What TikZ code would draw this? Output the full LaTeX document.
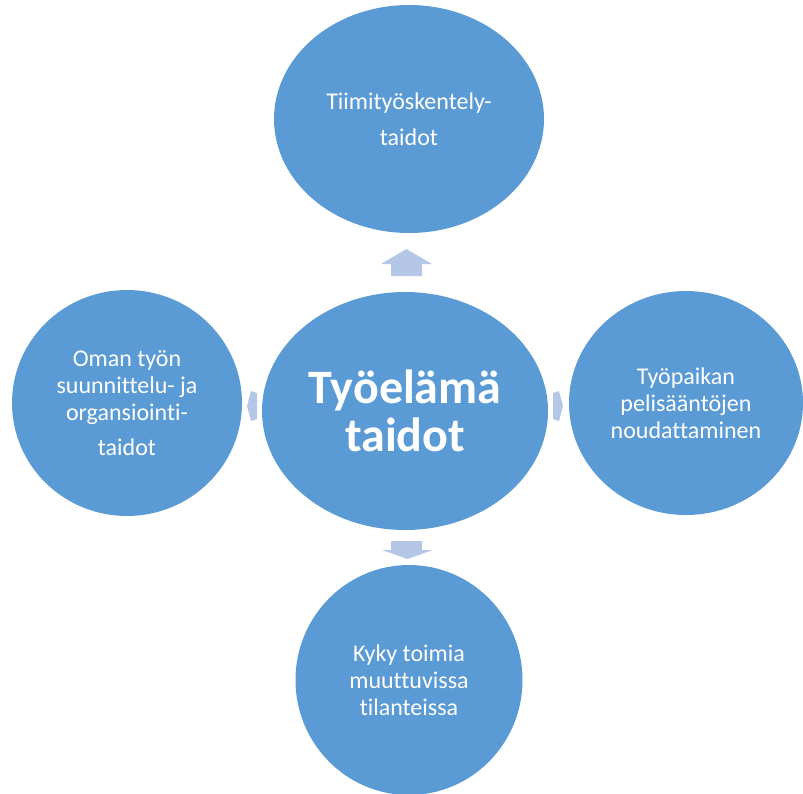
\documentclass[tikz,border=0pt]{standalone}
\usepackage{fontspec}
\setmainfont{Carlito}[Ligatures=NoCommon]
\usetikzlibrary{shapes.geometric}
\definecolor{circblue}{HTML}{5B9BD5}
\definecolor{arrowblue}{HTML}{B4C7E7}
\tikzset{
  bubble/.style={ellipse, fill=circblue, draw=none, text=white, align=center, inner sep=0pt,
    font=\fontsize{24}{27}\selectfont},
  arrowshape/.style={fill=arrowblue, draw=none}
}
\begin{document}
\begin{tikzpicture}[x=1pt,y=-1pt]
\useasboundingbox (0,0) rectangle (803,793);
\clip (0,0) rectangle (803,793);
% arrows
\fill[arrowshape] (391,276) -- (391,264) -- (381,264) -- (406.5,249) -- (432,264) -- (422,264) -- (422,276) -- cycle;
\fill[arrowshape] (391,541) -- (391,550) -- (382,550) -- (407.5,559) -- (433,550) -- (422,550) -- (422,541) -- cycle;
\fill[arrowshape] (257,393) -- (251,391) -- (247,406) -- (251,421) -- (257,419) -- cycle;
\fill[arrowshape] (553,393) -- (559,391) -- (563,406) -- (559,421) -- (553,419) -- cycle;
% ellipses
\node[bubble, minimum width=270, minimum height=228] (top) at (409,119)
  {Tiimityöskentely-\\[9pt]taidot};
\node[bubble, minimum width=230, minimum height=226] (left) at (127,403)
  {Oman työn\\suunnittelu- ja\\organsiointi-\\[8pt]taidot};
\node[bubble, minimum width=234, minimum height=224] (right) at (686,403)
  {Työpaikan\\pelisääntöjen\\noudattaminen};
\node[bubble, minimum width=227, minimum height=230] (bottom) at (409,680)
  {Kyky toimia\\muuttuvissa\\tilanteissa};
\node[bubble, minimum width=286, minimum height=238, font=\bfseries\fontsize{48}{48}\selectfont] (center) at (405,411)
  {Työelämä\\taidot};
\end{tikzpicture}
\end{document}
